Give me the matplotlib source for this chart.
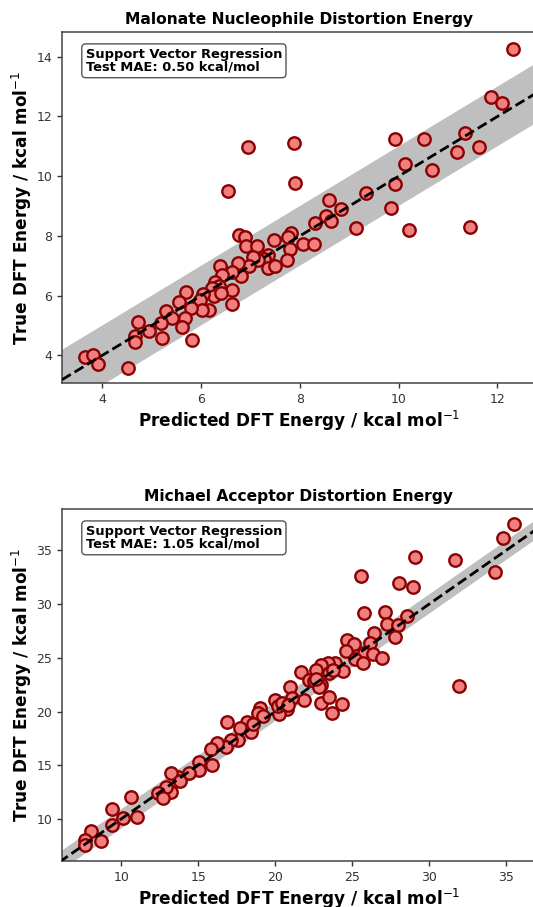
import matplotlib
matplotlib.use("Agg")
import matplotlib.pyplot as plt
import numpy as np

# ---- Data: Malonate nucleophile (predicted, true) ----
mal_pred = [12.32, 11.87, 12.09, 6.94, 7.88, 9.93, 10.51, 11.17, 11.34, 11.63,
            10.13, 10.67, 9.93, 9.34, 6.54, 7.90, 8.58, 8.83, 9.84, 8.52,
            8.62, 8.31, 9.14, 10.20, 11.44, 6.77, 6.88, 6.91, 7.12, 7.47,
            7.82, 7.75, 7.80, 7.73, 8.06, 8.28, 7.35, 7.28, 7.35, 7.49,
            7.14, 7.04, 6.96, 6.75, 6.80, 6.63, 6.38, 6.42, 6.63, 6.63,
            6.27, 6.35, 6.22, 6.25, 6.03, 5.98, 6.16, 6.02, 5.69, 5.79,
            5.55, 5.67, 5.62, 5.82, 5.28, 5.41, 5.19, 5.21, 4.95, 4.71,
            4.66, 4.66, 4.51, 3.64, 3.81, 3.90, 6.40]
mal_true = [14.27, 12.65, 12.45, 10.97, 11.12, 11.25, 11.25, 10.80, 11.43, 10.98,
            10.42, 10.20, 9.73, 9.45, 9.50, 9.77, 9.20, 8.90, 8.93, 8.68,
            8.50, 8.42, 8.26, 8.20, 8.31, 8.04, 7.95, 7.67, 7.65, 7.86,
            8.08, 7.95, 7.55, 7.20, 7.72, 7.72, 7.37, 7.22, 6.92, 7.00,
            7.20, 7.29, 7.00, 7.09, 6.66, 6.80, 6.98, 6.69, 6.17, 5.72,
            6.47, 6.32, 6.25, 5.97, 6.06, 5.86, 5.52, 5.52, 6.12, 5.58,
            5.80, 5.24, 4.93, 4.51, 5.49, 5.24, 5.07, 4.57, 4.81, 5.13,
            4.65, 4.46, 3.57, 3.93, 4.01, 3.70, 6.10]

# ---- Data: Michael acceptor (predicted, true) ----
mic_pred = [35.52, 34.79, 34.29, 29.06, 31.71, 25.60, 28.06, 28.95, 25.75, 27.14,
            27.29, 27.95, 28.57, 27.80, 26.41, 24.64, 25.15, 24.59, 26.14, 25.75,
            25.19, 25.70, 26.36, 26.96, 24.42, 23.87, 23.43, 22.99, 23.53, 22.65,
            21.66, 22.21, 22.54, 22.99, 20.99, 31.92, 22.87, 22.99, 23.53, 24.31,
            23.71, 21.88, 20.56, 20.78, 20.22, 20.00, 20.18, 21.11, 19.01, 18.90,
            18.20, 17.69, 18.46, 17.57, 16.87, 17.14, 16.81, 16.25, 15.85, 15.92,
            15.04, 15.04, 14.38, 13.71, 13.27, 13.83, 13.27, 12.94, 12.39, 12.72,
            10.67, 11.00, 10.12, 9.41, 9.41, 8.04, 8.70, 7.64, 7.64,
            19.23, 18.58, 20.42, 20.85, 23.78, 22.65]
mic_true = [37.44, 36.14, 33.03, 34.42, 34.12, 32.63, 31.95, 31.63, 29.15, 29.30,
            28.15, 28.06, 28.90, 26.91, 27.35, 26.66, 26.29, 25.67, 26.36, 25.43,
            24.87, 24.50, 25.33, 24.96, 23.81, 24.50, 24.50, 24.35, 23.62, 23.87,
            23.66, 22.94, 22.88, 22.48, 22.30, 22.40, 22.32, 20.83, 21.39, 20.71,
            19.90, 21.08, 20.71, 20.21, 19.75, 21.08, 20.52, 21.24, 20.31, 19.84,
            19.06, 18.44, 18.13, 17.36, 19.06, 17.36, 16.73, 17.11, 16.49, 15.03,
            15.34, 14.56, 14.31, 13.94, 14.25, 13.57, 12.54, 12.95, 12.39, 11.93,
            12.08, 10.22, 10.07, 10.90, 9.44, 8.88, 7.98, 8.05, 7.58,
            19.59, 18.85, 20.77, 20.61, 23.87, 23.00]

titles = ["Malonate Nucleophile Distortion Energy", "Michael Acceptor Distortion Energy"]
mae_texts = ["Support Vector Regression\nTest MAE: 0.50 kcal/mol",
             "Support Vector Regression\nTest MAE: 1.05 kcal/mol"]
band_halfwidth = [1.0, 0.9]
xlims = [(3.18, 12.78), (6.16, 36.94)]
ylims = [(3.07, 14.83), (6.09, 38.85)]
xticks = [[4, 6, 8, 10, 12], [10, 15, 20, 25, 30, 35]]
yticks = [[4, 6, 8, 10, 12, 14], [10, 15, 20, 25, 30, 35]]

W, H = 533, 907
fig = plt.figure(figsize=(W / 100, H / 100), dpi=100)

# axes boxes in pixels: left, top, right, bottom
boxes = [(62, 32, 536, 383), (62, 509, 536, 861)]

datasets = [(mal_pred, mal_true), (mic_pred, mic_true)]
for i, (xs, ys) in enumerate(datasets):
    l, t, r, b = boxes[i]
    ax = fig.add_axes([l / W, 1 - b / H, (r - l) / W, (b - t) / H])
    xl = xlims[i]
    lo = min(xl[0], ylims[i][0]) - 5
    hi = max(xl[1], ylims[i][1]) + 5
    line = np.array([lo, hi])
    ax.fill_between(line, line - band_halfwidth[i], line + band_halfwidth[i],
                    color="gray", alpha=0.5, linewidth=0, zorder=1)
    ax.plot(line, line, ls="--", color="black", lw=2, zorder=3)
    ax.scatter(xs, ys, s=80, facecolor="#F08080", edgecolor="#8B0000",
               linewidths=1.7, zorder=2)
    ax.set_xlim(*xlims[i])
    ax.set_ylim(*ylims[i])
    ax.set_xticks(xticks[i])
    ax.set_yticks(yticks[i])
    ax.tick_params(labelsize=9, colors="#333333", length=3.5, width=1)
    for sp in ax.spines.values():
        sp.set_color("#444444")
        sp.set_linewidth(1.1)
    ax.set_title(titles[i], fontsize=11.2, fontweight="bold", pad=6)
    ax.set_xlabel("Predicted DFT Energy / kcal mol$^{-1}$", fontsize=12.2,
                  fontweight="bold", labelpad=2)
    ax.set_ylabel("True DFT Energy / kcal mol$^{-1}$", fontsize=12.2,
                  fontweight="bold", labelpad=2)
    ax.text(0.05, 0.955, mae_texts[i], transform=ax.transAxes, fontsize=9.4,
            fontweight="bold", va="top", ha="left", linespacing=1.0,
            bbox=dict(boxstyle="round,pad=0.3", facecolor="white",
                      edgecolor="#555555", linewidth=1))

fig.savefig("out.png", dpi=100)
